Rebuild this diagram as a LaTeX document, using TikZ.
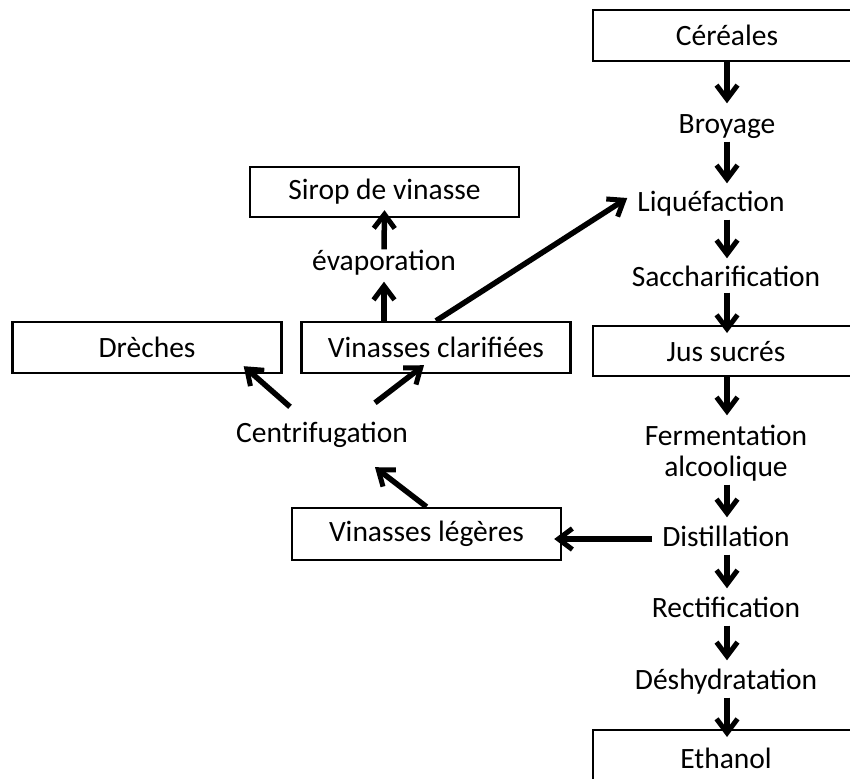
\documentclass[tikz,border=0pt]{standalone}
\usepackage{fontspec}
\setmainfont{Carlito}
\usetikzlibrary{arrows.meta}
\begin{document}
\begin{tikzpicture}[x=1pt,y=-1pt,
  every node/.style={font=\fontsize{29.5}{34}\selectfont},
  box/.style={draw, line width=2.4pt, minimum width=269pt, minimum height=51pt, inner sep=0pt},
  txt/.style={inner sep=2pt, text height=21pt, text depth=6pt},
  arr/.style={line width=5.5pt, -{Straight Barb[length=14pt, width=21pt, line width=5pt]}}]
\useasboundingbox (0,0) rectangle (850,778);
% main production line (right column)
\node[box, minimum width=266pt, anchor=north west] (cer) at (592,9) {};
\node at (727,35) (certxt) {Céréales};
\node[txt] (broy) at (727,126) {Broyage};
\node[txt] (liq) at (711,204) {Liquéfaction};
\node[txt] (sacc) at (726,279) {Saccharification};
\node[box, minimum width=266pt, minimum height=50pt, anchor=north west] (jus) at (592,325) {};
\node at (726,352) (justxt) {Jus sucrés};
\node[txt] (ferm) at (726,438) {Fermentation};
\node[txt] (alc) at (726,469) {alcoolique};
\node[txt] (dist) at (726,539) {Distillation};
\node[txt] (rect) at (726,610) {Rectification};
\node[txt] (desh) at (726,682) {Déshydratation};
\node[box, minimum width=266pt, minimum height=70pt, anchor=north west] (eth) at (592,729) {};
\node at (726,758) (ethtxt) {Ethanol};
% by-products (left side)
\node[box, minimum height=50pt] (sirop) at (384.5,192) {Sirop de vinasse};
\node[txt] (evap) at (384,263) {évaporation};
\node[box] (clar) at (436,347.5) {Vinasses clarifiées};
\node[box] (dre) at (147,347.5) {Drèches};
\node[txt] (centr) at (322,435) {Centrifugation};
\node[box, minimum height=52pt] (leg) at (426.5,534) {Vinasses légères};
% connectors along the main line
\coordinate (x) at (727,0);
\draw[arr] (cer.south -| x) -- ([yshift=7pt]broy.north -| x);
\draw[arr] (broy.south -| x) -- ([yshift=5pt]liq.north -| x);
\draw[arr] (liq.south -| x) -- ([yshift=5pt]sacc.north -| x);
\draw[arr] ([yshift=2pt]sacc.south -| x) -- ([yshift=-8pt]jus.north -| x);
\draw[arr] (jus.south -| x) -- ([yshift=7pt]ferm.north -| x);
\draw[arr] (alc.south -| x) -- ([yshift=6pt]dist.north -| x);
\draw[arr] (dist.south -| x) -- ([yshift=6pt]rect.north -| x);
\draw[arr] (rect.south -| x) -- ([yshift=6pt]desh.north -| x);
\draw[arr] (desh.south -| x) -- ([yshift=-8pt]eth.north -| x);
% side streams
\draw[arr] ([xshift=-8pt]dist.west) -- ([xshift=-8pt]leg.east |- dist.west);
\draw[arr] (leg.north) -- ([xshift=53pt,yshift=-16.5pt]centr.south);
\draw[arr] ([xshift=-32pt,yshift=12.5pt]centr.north) -- ([xshift=-39pt,yshift=8pt]dre.south east);
\draw[arr] ([xshift=53pt,yshift=16.5pt]centr.north) -- ([xshift=-12pt,yshift=9pt]clar.south);
\draw[arr] ([xshift=-52pt]clar.north) -- ([yshift=-3pt]evap.south);
\draw[arr] ([yshift=-2pt]evap.north) -- ([yshift=8pt]sirop.south);
\draw[arr] (clar.north) -- ([xshift=-8pt,yshift=6pt]liq.west);
\end{tikzpicture}
\end{document}
